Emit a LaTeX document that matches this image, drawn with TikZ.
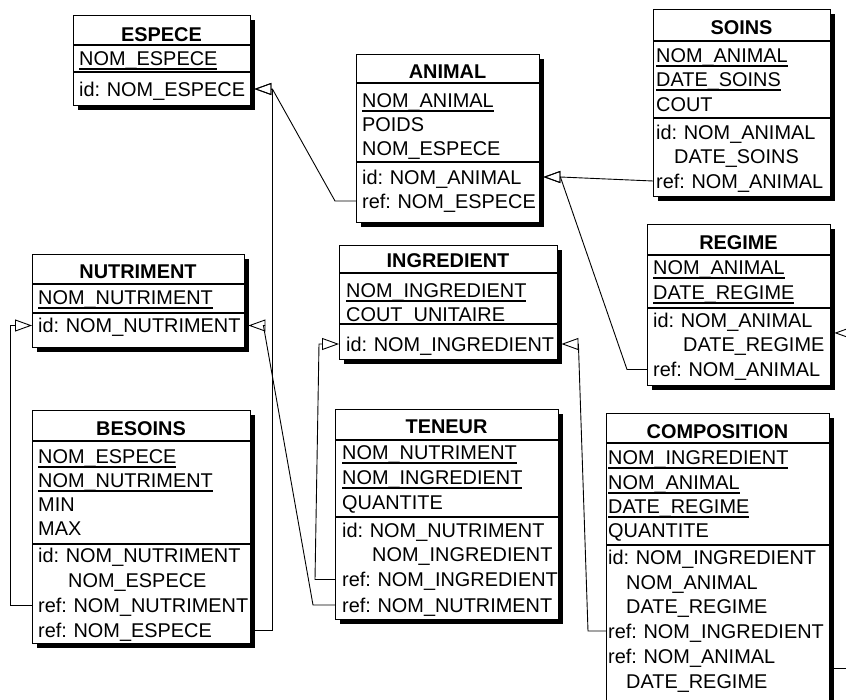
\documentclass[tikz,border=0pt]{standalone}
\usepackage{fontspec}
\setmainfont{Liberation Sans}
\usetikzlibrary{arrows.meta,shadows}

\newcommand\erfont{\fontsize{19.9pt}{24.5pt}\selectfont\frenchspacing}
\newlength\pkw
\newcommand\pkey[1]{\settowidth\pkw{#1}\rlap{\rule[-4.5pt]{\pkw}{2pt}}#1}
\newcommand\cont[1][30pt]{\hspace*{#1}}
\def\tabpad{6pt}

\tikzset{
  tabframe/.style={draw, line width=1.1pt, fill=white, anchor=north west, inner sep=0pt,
    drop shadow={shadow xshift=4pt, shadow yshift=-4pt, fill=black, opacity=1}},
  tabhead/.style={font=\erfont\bfseries, inner sep=0pt, text height=14.3pt, text depth=0pt},
  tabline/.style={font=\erfont, anchor=west, inner sep=0pt, minimum height=24.5pt,
    text height=14.3pt, text depth=0pt, align=left, text width=#1,
    execute at begin node={\hspace*{\tabpad}}},
  lpad/.code={\def\tabpad{#1}},
  sepline/.style={line width=1.1pt},
  fk/.style={line width=0.9pt, -{Triangle[open, length=17pt, width=12pt]}},
  fkr/.style={fk, shorten >=4pt},
}

\begin{document}
\begin{tikzpicture}[x=1pt,y=-1pt]
\useasboundingbox (0,0) rectangle (846,699);
\fill[white] (0,0) rectangle (846,699);
\clip (0,0) rectangle (846,699);

\node[tabframe, minimum width=177pt, minimum height=90pt] (espece) at (73,15) {};
\node[tabhead] (espece-t) at (161.5,34) {ESPECE};
\draw[sepline] (73,45) -- ++(177,0) (73,72) -- ++(177,0);
\foreach \nm/\txt/\yy in {nom/\pkey{NOM\_ESPECE}/58, id/id:~NOM\_ESPECE/89}
  \node[tabline=177pt] (espece-\nm) at (73,\yy) {\txt};

\node[tabframe, minimum width=183pt, minimum height=168pt] (animal) at (356,54) {};
\node[tabhead] (animal-t) at (447.5,71.5) {ANIMAL};
\draw[sepline] (356,83) -- ++(183,0) (356,162) -- ++(183,0);
\foreach \nm/\txt/\yy in {nom/\pkey{NOM\_ANIMAL}/100, poids/POIDS/124, esp/NOM\_ESPECE/148,
    id/id:~NOM\_ANIMAL/177, ref/ref:~NOM\_ESPECE/201}
  \node[tabline=183pt] (animal-\nm) at (356,\yy) {\txt};

\begin{scope}[lpad=3pt]
\node[tabframe, minimum width=177pt, minimum height=187pt] (soins) at (653,9) {};
\node[tabhead] (soins-t) at (741.5,27.5) {SOINS};
\draw[sepline] (653,41) -- ++(177,0) (653,118) -- ++(177,0);
\foreach \nm/\txt/\yy in {nom/\pkey{NOM\_ANIMAL}/55.5, date/\pkey{DATE\_SOINS}/79.5, cout/COUT/104,
    id/id:~NOM\_ANIMAL/132, id2/\cont[18pt]DATE\_SOINS/156, ref/ref:~NOM\_ANIMAL/181}
  \node[tabline=177pt] (soins-\nm) at (653,\yy) {\txt};
\end{scope}

\node[tabframe, minimum width=183pt, minimum height=161pt] (regime) at (647,224) {};
\node[tabhead] (regime-t) at (738.5,242.5) {REGIME};
\draw[sepline] (647,255) -- ++(183,0) (647,308) -- ++(183,0);
\foreach \nm/\txt/\yy in {nom/\pkey{NOM\_ANIMAL}/267.5, date/\pkey{DATE\_REGIME}/292.5,
    id/id:~NOM\_ANIMAL/320.5, id2/\cont DATE\_REGIME/344.5, ref/ref:~NOM\_ANIMAL/369.5}
  \node[tabline=183pt] (regime-\nm) at (647,\yy) {\txt};

\node[tabframe, minimum width=212pt, minimum height=93pt] (nutr) at (32,254) {};
\node[tabhead] (nutr-t) at (138,271.5) {NUTRIMENT};
\draw[sepline] (32,284) -- ++(212,0) (32,313) -- ++(212,0);
\foreach \nm/\txt/\yy in {nom/\pkey{NOM\_NUTRIMENT}/297.5, id/id:~NOM\_NUTRIMENT/325.5}
  \node[tabline=212pt] (nutr-\nm) at (32,\yy) {\txt};

\begin{scope}[lpad=7pt]
\node[tabframe, minimum width=218pt, minimum height=114pt] (ingr) at (339,245) {};
\node[tabhead] (ingr-t) at (448,260) {INGREDIENT};
\draw[sepline] (339,273) -- ++(218,0) (339,324) -- ++(218,0);
\foreach \nm/\txt/\yy in {nom/\pkey{NOM\_INGREDIENT}/290, cout/COUT\_UNITAIRE/314,
    id/id:~NOM\_INGREDIENT/344}
  \node[tabline=218pt] (ingr-\nm) at (339,\yy) {\txt};
\end{scope}

\node[tabframe, minimum width=218pt, minimum height=233pt] (bes) at (32,410) {};
\node[tabhead] (bes-t) at (141,428) {BESOINS};
\draw[sepline] (32,441) -- ++(218,0) (32,544) -- ++(218,0);
\foreach \nm/\txt/\yy in {esp/\pkey{NOM\_ESPECE}/456, nutr/\pkey{NOM\_NUTRIMENT}/480,
    min/MIN/504, max/MAX/528, id/id:~NOM\_NUTRIMENT/555, id2/\cont NOM\_ESPECE/580,
    ref1/ref:~NOM\_NUTRIMENT/605, ref2/ref:~NOM\_ESPECE/630}
  \node[tabline=218pt] (bes-\nm) at (32,\yy) {\txt};

\begin{scope}[lpad=7pt]
\node[tabframe, minimum width=223pt, minimum height=210pt] (ten) at (335,409) {};
\node[tabhead] (ten-t) at (446.5,426.5) {TENEUR};
\draw[sepline] (335,440) -- ++(223,0) (335,517) -- ++(223,0);
\foreach \nm/\txt/\yy in {nutr/\pkey{NOM\_NUTRIMENT}/452.5, ingr/\pkey{NOM\_INGREDIENT}/477,
    qte/QUANTITE/502, id/id:~NOM\_NUTRIMENT/530.5, id2/\cont NOM\_INGREDIENT/554.5,
    ref1/ref:~NOM\_INGREDIENT/579.5, ref2/ref:~NOM\_NUTRIMENT/605}
  \node[tabline=223pt] (ten-\nm) at (335,\yy) {\txt};
\end{scope}

\begin{scope}[lpad=2pt]
\node[tabframe, minimum width=223pt, minimum height=299pt] (comp) at (606,413) {};
\node[tabhead] (comp-t) at (717.5,431) {COMPOSITION};
\draw[sepline] (606,443) -- ++(223,0) (606,545) -- ++(223,0);
\foreach \nm/\txt/\yy in {ingr/\pkey{NOM\_INGREDIENT}/457, anim/\pkey{NOM\_ANIMAL}/482,
    date/\pkey{DATE\_REGIME}/506, qte/QUANTITE/530, id/id:~NOM\_INGREDIENT/557,
    id2/\cont[18pt]NOM\_ANIMAL/582, id3/\cont[18pt]DATE\_REGIME/606,
    ref1/ref:~NOM\_INGREDIENT/631, ref2/ref:~NOM\_ANIMAL/656, ref3/\cont[18pt]DATE\_REGIME/681}
  \node[tabline=223pt] (comp-\nm) at (606,\yy) {\txt};
\end{scope}

\draw[fkr] (animal-ref.west) -- ++(-21,0) -- ([xshift=22pt]espece-id.east) -- (espece-id.east);
\draw[fkr] (bes-ref2.east) -| ([xshift=22pt]espece-id.east) -- (espece-id.east);
\draw[fkr] (soins-ref.west) -- ([xshift=21pt]animal-id.east) -- (animal-id.east);
\draw[fkr] (regime-ref.west) -- ++(-20,0) -- ([xshift=21pt]animal-id.east) -- (animal-id.east);
\draw[fk] (bes-ref1.west) -| ([xshift=-22pt]nutr-id.west) -- (nutr-id.west);
\draw[fkr] (ten-ref2.west) -- ++(-22,0) -- ([xshift=19pt]nutr-id.east) -- (nutr-id.east);
\draw[fk] (ten-ref1.west) -- ++(-20,0) -- ([xshift=-20pt]ingr-id.west) -- (ingr-id.west);
\draw[fkr] (comp-ref1.west) -- ++(-18,0) -- ([xshift=21pt]ingr-id.east) -- (ingr-id.east);
\draw[fkr] (comp-ref2.south east) -- ++(40,0) |- (regime-id.south east);
\end{tikzpicture}
\end{document}
